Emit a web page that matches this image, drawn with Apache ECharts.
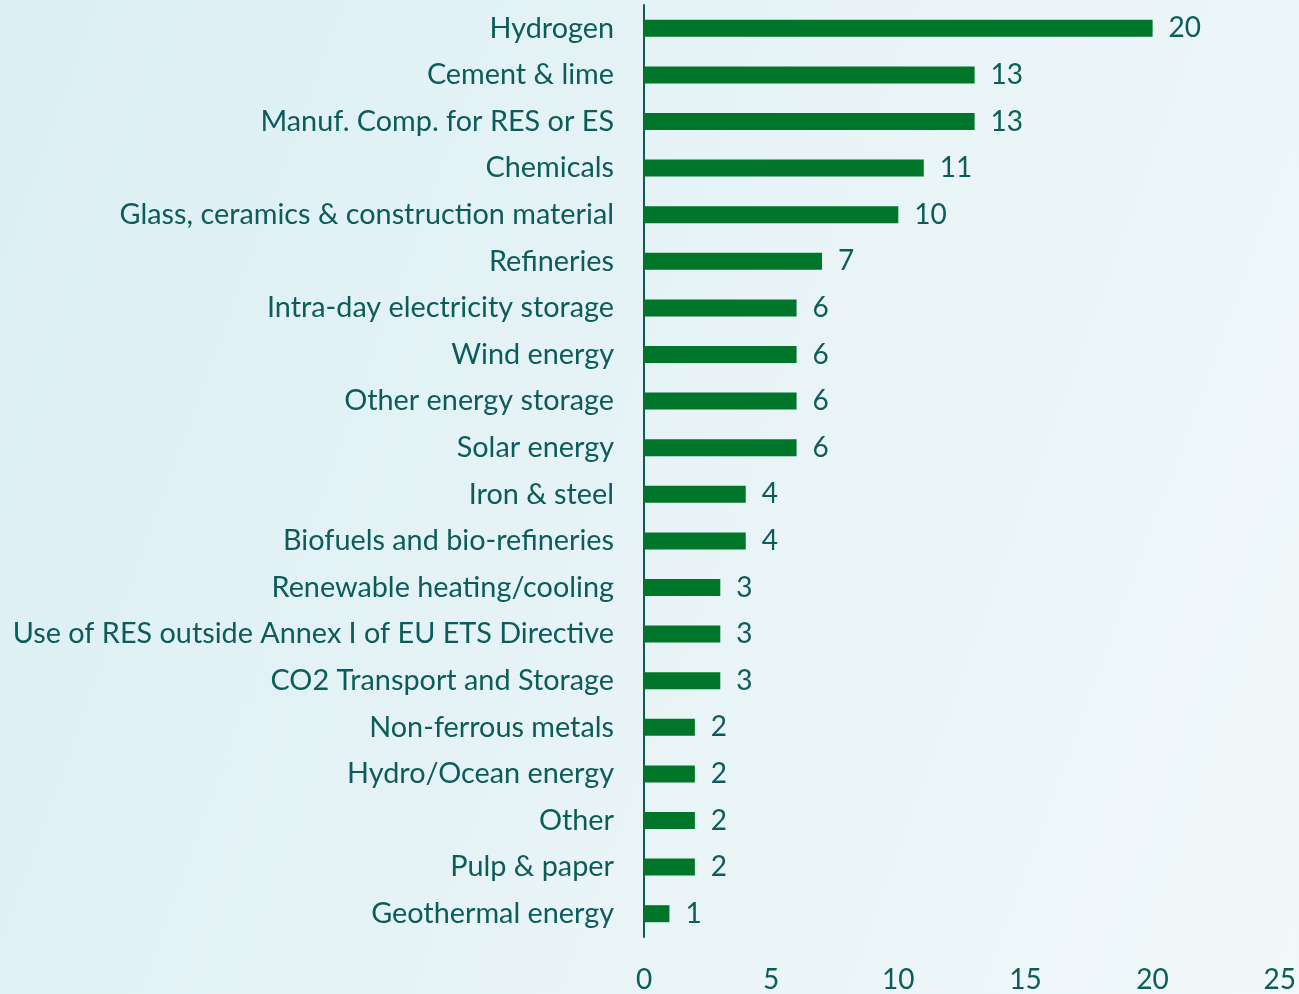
<!DOCTYPE html>
<html>
<head>
<meta charset="utf-8">
<style>
    html, body {margin:0;padding:0;width:1299px;height:994px;overflow:hidden;}
    body {background:linear-gradient(110deg, #dbeff4 0%, #e6f3f6 45%, #f1f8fa 100%);}
    #main {width:1299px;height:994px;}
</style>
<script src="https://cdn.jsdelivr.net/npm/echarts@6/dist/echarts.min.js"></script>
</head>
<body>
<div id="main"></div>
<script>
    // sectors, top to bottom as in the picture
    var sectors = ['Hydrogen', 'Cement & lime', 'Manuf. Comp. for RES or ES', 'Chemicals',
        'Glass, ceramics & construction material', 'Refineries', 'Intra-day electricity storage',
        'Wind energy', 'Other energy storage', 'Solar energy', 'Iron & steel',
        'Biofuels and bio-refineries', 'Renewable heating/cooling',
        'Use of RES outside Annex I of EU ETS Directive', 'CO2 Transport and Storage',
        'Non-ferrous metals', 'Hydro/Ocean energy', 'Other', 'Pulp & paper', 'Geothermal energy'];
    var counts = [20, 13, 13, 11, 10, 7, 6, 6, 6, 6, 4, 4, 3, 3, 3, 2, 2, 2, 2, 1];
    var xTicks = [0, 5, 10, 15, 20, 25];

    var textColor = '#0b5c5a';
    var font = 'Lato, "Open Sans", sans-serif';

    var myChart = echarts.init(document.getElementById('main'));
    var option = {
        animation: false,
        backgroundColor: 'transparent',
        grid: {left: 644, right: 15, top: 5, bottom: 55},
        xAxis: {
            type: 'value',
            min: xTicks[0],
            max: xTicks[xTicks.length - 1],
            interval: 5,
            axisLine: {show: false},
            axisTick: {show: false},
            splitLine: {show: false},
            axisLabel: {color: textColor, fontSize: 28, fontFamily: font, margin: 29}
        },
        yAxis: {
            type: 'category',
            data: sectors,
            inverse: true,
            axisLine: {show: true, lineStyle: {color: textColor, width: 2}},
            axisTick: {show: false},
            axisLabel: {color: textColor, fontSize: 28.8, fontFamily: font, margin: 30, padding: [0, 0, 4, 0]}
        },
        series: [{
            type: 'bar',
            data: counts,
            barWidth: 17,
            itemStyle: {color: '#00762a'},
            label: {
                show: true,
                position: 'right',
                distance: 16,
                color: textColor,
                fontSize: 28,
                fontFamily: font,
                padding: [0, 0, 4, 0]
            }
        }]
    };
    myChart.setOption(option, true);
</script>
</body>
</html>
